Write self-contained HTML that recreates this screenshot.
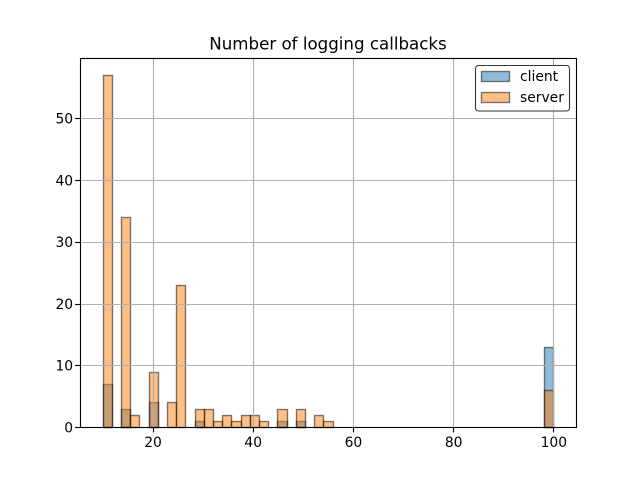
<!DOCTYPE html>
<html>
<head>
<meta charset="utf-8">
<title>Number of logging callbacks</title>
<style>
html,body{margin:0;padding:0;background:#fff;width:640px;height:480px;overflow:hidden}
svg{display:block}
text{font-family:"DejaVu Sans",sans-serif;fill:#000}
</style>
</head>
<body>
<svg id="chart" xmlns="http://www.w3.org/2000/svg" width="640" height="480" viewBox="0 0 640 480">
  <rect x="0" y="0" width="640" height="480" fill="#fff"/>
  <g id="plot"></g>
  <text x="328" y="49.3" font-size="16.67" text-anchor="middle">Number of logging callbacks</text>
  <g>
    <rect x="475.5" y="65.5" width="94" height="45.5" rx="3" ry="3" fill="rgba(255,255,255,0.8)" stroke="rgba(0,0,0,0.8)" stroke-width="1.11"/>
    <g>
      <rect x="481.5" y="71.5" width="28" height="10" fill="rgba(31,119,180,0.5)" stroke="rgba(0,0,0,0.5)" stroke-width="1.39"/>
      <text x="520" y="81" font-size="13.89">client</text>
    </g>
    <g>
      <rect x="481.5" y="92.5" width="28" height="10" fill="rgba(255,127,14,0.5)" stroke="rgba(0,0,0,0.5)" stroke-width="1.39"/>
      <text x="520" y="102" font-size="13.89">server</text>
    </g>
  </g>
</svg>
<script>
const binCount = 49;
const binStart = 10;
const binEnd = 100;
const clientCounts = [7,0,3,0,0,4,0,0,0,0,1,0,0,0,0,0,0,0,0,1,0,1,0,0,0,0,0,0,0,0,0,0,0,0,0,0,0,0,0,0,0,0,0,0,0,0,0,0,13];
const serverCounts = [57,0,34,2,0,9,0,4,23,0,3,3,1,2,1,2,2,1,0,3,0,3,0,2,1,0,0,0,0,0,0,0,0,0,0,0,0,0,0,0,0,0,0,0,0,0,0,0,6];
const xTicks = [20,40,60,80,100];
const yTicks = [0,10,20,30,40,50];

const NS = 'http://www.w3.org/2000/svg';
const plot = document.getElementById('plot');
const axL = 80, axR = 576, axT = 57.6, axB = 427.2;
const xMin = binStart - (binEnd - binStart) * 0.05;
const xMax = binEnd + (binEnd - binStart) * 0.05;
const yMax = Math.max(...clientCounts, ...serverCounts) * 1.05;
function xScale(v) { return axL + (v - xMin) / (xMax - xMin) * (axR - axL); }
function yScale(v) { return axB - v / yMax * (axB - axT); }
function snap(v) { return Math.floor(v + 0.5) + 0.5; }
function make(tag, attrs) {
  const el = document.createElementNS(NS, tag);
  for (const k in attrs) el.setAttribute(k, attrs[k]);
  return el;
}
function drawSeries(counts, fill, label) {
  const w = (binEnd - binStart) / binCount;
  counts.forEach(function (c, i) {
    if (c <= 0) return;
    const x0 = snap(xScale(binStart + i * w));
    const x1 = snap(xScale(binStart + (i + 1) * w));
    const y0 = snap(yScale(c));
    const y1 = snap(yScale(0));
    const r = make('rect', {x: x0, y: y0, width: x1 - x0, height: y1 - y0, fill: fill, stroke: 'rgba(0,0,0,0.5)', 'stroke-width': 1.39});
    
    
    plot.appendChild(r);
  });
}
drawSeries(clientCounts, 'rgba(31,119,180,0.5)', 'client');
drawSeries(serverCounts, 'rgba(255,127,14,0.5)', 'server');

xTicks.forEach(function (t) {
  const x = snap(xScale(t));
  const g = make('line', {x1: x, x2: x, y1: axT, y2: axB, stroke: '#b0b0b0', 'stroke-width': 1.11});
  
  
  plot.appendChild(g);
});
yTicks.forEach(function (t) {
  const y = snap(yScale(t));
  const g = make('line', {x1: axL, x2: axR, y1: y, y2: y, stroke: '#b0b0b0', 'stroke-width': 1.11});
  
  
  plot.appendChild(g);
});
xTicks.forEach(function (t) {
  const x = snap(xScale(t));
  const m = make('line', {x1: x, x2: x, y1: 427.5, y2: 432.4, stroke: '#000', 'stroke-width': 1.11});
  
  
  plot.appendChild(m);
  const l = make('text', {x: xScale(t) + 0.4, y: 447.2, 'font-size': 13.89, 'text-anchor': 'middle'});
  
  
  l.textContent = t;
  plot.appendChild(l);
});
yTicks.forEach(function (t) {
  const y = snap(yScale(t));
  const m = make('line', {x1: 75.1, x2: 80, y1: y, y2: y, stroke: '#000', 'stroke-width': 1.11});
  
  
  plot.appendChild(m);
  const l = make('text', {x: 73.1, y: yScale(t) + 5.1, 'font-size': 13.89, 'text-anchor': 'end'});
  
  
  l.textContent = t;
  plot.appendChild(l);
});
const spine = make('rect', {x: 80.5, y: 58.5, width: 496, height: 369, fill: 'none', stroke: '#000', 'stroke-width': 1.11});


plot.appendChild(spine);
</script>
</body>
</html>
